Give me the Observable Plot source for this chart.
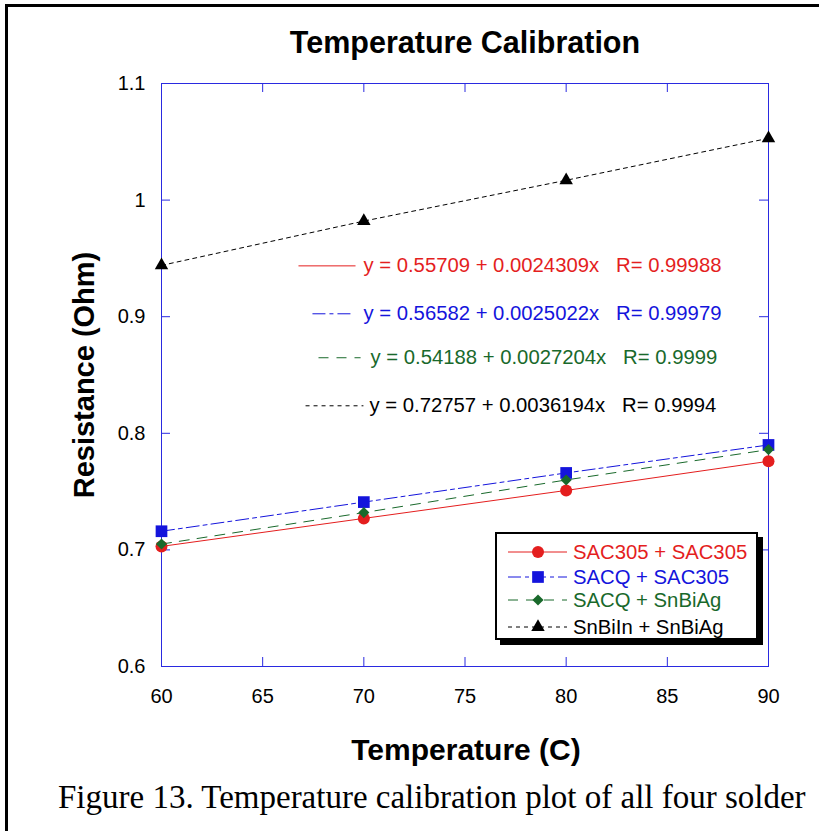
<!DOCTYPE html>
<html><head><meta charset="utf-8">
<script src="https://cdn.jsdelivr.net/npm/d3@7"></script>
<script src="https://cdn.jsdelivr.net/npm/@observablehq/plot@0.6"></script>
<style>
html,body{margin:0;background:#fff;overflow:hidden;}
#wrap{position:relative;width:819px;height:831px;overflow:hidden;font-family:"Liberation Sans",Arial,sans-serif;background:#fff;}
#border{position:absolute;left:5px;top:4px;width:830px;height:840px;border-left:3px solid #000;border-top:3px solid #000;}
#chart{position:absolute;left:0;top:0;}
.lbl{position:absolute;white-space:nowrap;font-weight:bold;color:#000;line-height:1;}
#title{left:465px;top:42px;transform:translate(-50%,-50%);font-size:30.5px;}
#xlabel{left:466px;top:750px;transform:translate(-50%,-50%);font-size:30px;}
#ylabel{left:84px;top:375px;transform:translate(-50%,-50%) rotate(-90deg);font-size:29px;}
#caption{position:absolute;left:58px;top:781px;font-family:"Liberation Serif","Times New Roman",serif;font-size:33px;line-height:33px;white-space:nowrap;color:#000;}
#legend{position:absolute;left:495px;top:532px;width:259px;height:104px;border:2px solid #000;box-shadow:5px 5px 0 #000;background:#fff;}
</style></head><body>
<div id="wrap">
 <div id="border"></div>
 <div id="chart"></div>
 <div id="title" class="lbl">Temperature Calibration</div>
 <div id="ylabel" class="lbl">Resistance (Ohm)</div>
 <div id="xlabel" class="lbl">Temperature (C)</div>
 <div id="legend"></div>
 <div id="caption">Figure 13. Temperature calibration plot of all four solder</div>
</div>
<script>
// ---- data ----
const temps = [60, 70, 80, 90];
const sac305_sac305 = [0.703, 0.727, 0.751, 0.776];
const sacq_sac305 = [0.716, 0.741, 0.766, 0.790];
const sacq_snbiag = [0.705, 0.732, 0.760, 0.786];
const snbiin_snbiag = [0.944, 0.982, 1.017, 1.053];
const seriesNames = ["SAC305 + SAC305", "SACQ + SAC305", "SACQ + SnBiAg", "SnBiIn + SnBiAg"];
const equations = [
  "y = 0.55709 + 0.0024309x\u00a0\u00a0\u00a0R= 0.99988",
  "y = 0.56582 + 0.0025022x\u00a0\u00a0\u00a0R= 0.99979",
  "y = 0.54188 + 0.0027204x\u00a0\u00a0\u00a0R= 0.9999",
  "y = 0.72757 + 0.0036194x\u00a0\u00a0\u00a0R= 0.9994"
];
const xTicks = [60, 65, 70, 75, 80, 85, 90];
const yTicks = [0.6, 0.7, 0.8, 0.9, 1.0, 1.1];
// equation annotation anchors (data units)
const eqTextX = [69.98, 69.98, 70.33, 70.28];
const eqY = [0.9436, 0.9025, 0.8648, 0.8236];
const eqLineX1 = [66.77, 67.46, 67.76, 67.12];
const eqLineX2 = [69.59, 69.49, 69.84, 69.98];

// ---- styles ----
const colors = ["#e41e1e", "#1414dc", "#19692b", "#000000"];
const dashes = [null, "13,4,4,4", "10,8", "4,4"];
const symbols = ["circle", "square", "diamond2", "triangle"];
const d3Symbols = [d3.symbolCircle, d3.symbolSquare, d3.symbolDiamond2, d3.symbolTriangle];
const radii = [6, 6.6, 5, 5];
const axisBlue = "#2a2ae0";

const allVals = [sac305_sac305, sacq_sac305, sacq_snbiag, snbiin_snbiag];
const series = allVals.map((vals, i) => temps.map((t, j) => ({x: t, y: vals[j], s: i})));
const eqData = equations.map((e, i) => ({text: e, x: eqTextX[i], y: eqY[i], x1: eqLineX1[i], x2: eqLineX2[i], s: i}));

const W = 819, H = 720, mL = 161, mR = 51, mT = 83, mB = 54;
const innerW = W - mL - mR, innerH = H - mT - mB;

const marks = [
  Plot.frame({stroke: axisBlue}),
  Plot.tickX(xTicks, {x: d => d, stroke: axisBlue, insetTop: innerH - 9}),
  Plot.tickX(xTicks, {x: d => d, stroke: axisBlue, insetBottom: innerH - 9}),
  Plot.tickY(yTicks, {y: d => d, stroke: axisBlue, insetRight: innerW - 9}),
  Plot.tickY(yTicks, {y: d => d, stroke: axisBlue, insetLeft: innerW - 9})
];
eqData.forEach((d, i) => {
  marks.push(Plot.link([d], {x1: "x1", x2: "x2", y1: "y", y2: "y", stroke: colors[i], strokeWidth: 1, strokeDasharray: dashes[i]}));
  marks.push(Plot.text([d], {x: "x", y: "y", text: "text", fill: colors[i], textAnchor: "start", lineAnchor: "middle", fontSize: 20.3}));
});
series.forEach((data, i) => {
  marks.push(Plot.line(data, {x: "x", y: "y", stroke: colors[i], strokeWidth: 1, strokeDasharray: dashes[i]}));
});
series.forEach((data, i) => {
  marks.push(Plot.dot(data, {x: "x", y: "y", symbol: () => symbols[i], fill: colors[i], stroke: "none", r: radii[i]}));
});

const chart = Plot.plot({
  width: W, height: H,
  marginLeft: mL, marginRight: mR, marginTop: mT, marginBottom: mB,
  style: {fontFamily: "'Liberation Sans', Arial, sans-serif", fontSize: "20px", color: "#000", background: "transparent"},
  symbol: {type: "identity"},
  x: {domain: [60, 90], ticks: xTicks, tickSize: 0, tickPadding: 22, label: null},
  y: {domain: [0.6, 1.1], ticks: yTicks, tickSize: 0, tickPadding: 16, label: null, tickFormat: d => String(d)},
  marks
});
document.getElementById("chart").appendChild(chart);

// ---- legend ----
const lw = 259, lh = 104;
const leg = d3.select("#legend").append("svg").attr("width", lw).attr("height", lh).style("display", "block");
const rowY = [18, 43, 66, 93];
seriesNames.forEach((name, i) => {
  const g = leg.append("g").attr("transform", `translate(0,${rowY[i]})`);
  g.append("line").attr("x1", 11).attr("x2", 70).attr("y1", 0).attr("y2", 0)
    .attr("stroke", colors[i]).attr("stroke-width", 1).attr("stroke-dasharray", dashes[i]);
  g.append("path").attr("transform", "translate(41,0)")
    .attr("d", d3.symbol(d3Symbols[i], Math.PI * radii[i] * radii[i])())
    .attr("fill", colors[i]);
  g.append("text").attr("x", 76).attr("y", 0).attr("dy", "0.35em").attr("fill", colors[i])
    .attr("font-size", 20.3).attr("font-family", "'Liberation Sans', Arial, sans-serif").text(name);
});
</script>
</body></html>
